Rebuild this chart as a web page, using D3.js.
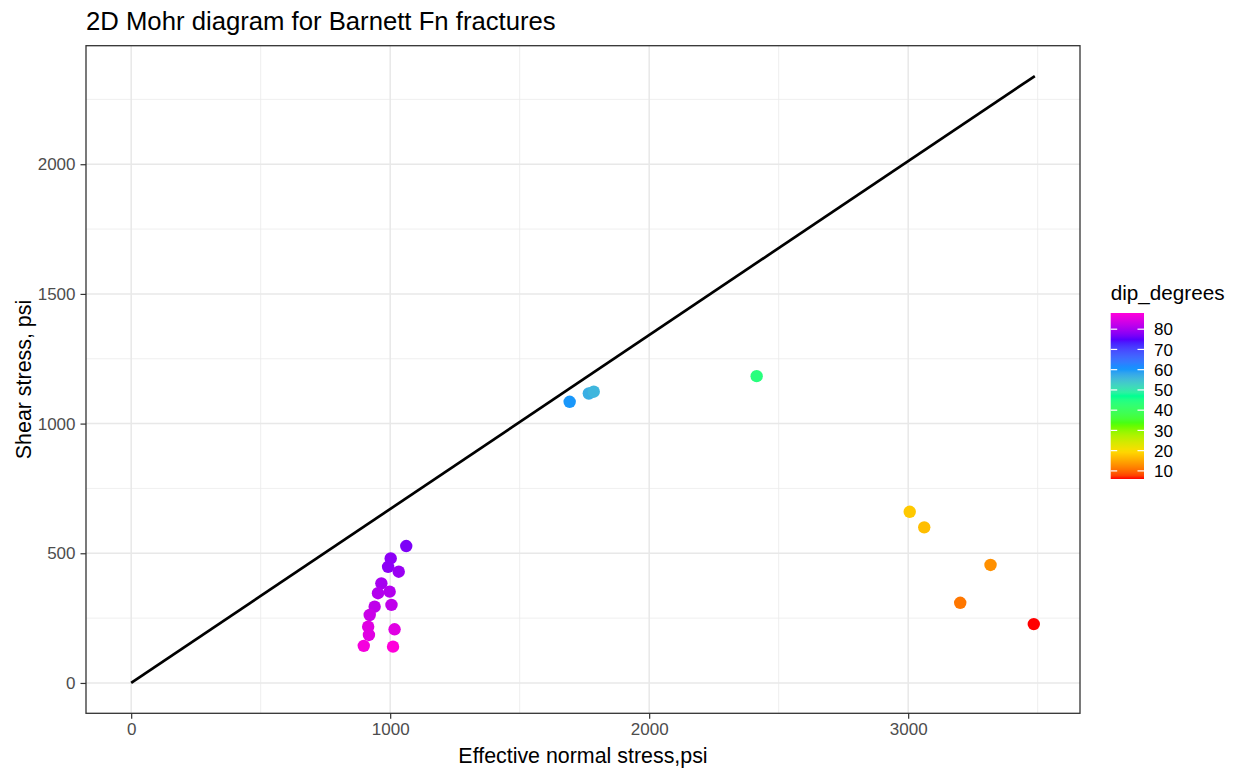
<!DOCTYPE html>
<html><head><meta charset="utf-8">
<script src="https://cdn.jsdelivr.net/npm/d3@7"></script>
<style>body{margin:0;background:#fff}svg{font-family:"Liberation Sans",Arial,sans-serif}</style>
</head><body><svg id="c" width="1245" height="773"></svg>
<script>
// Data
const normalStress = [1062,1002,992,1033,966,998,953,1005,940,921,915,918,1017,898,1011,1693,1767,1786,2415,3006,3062,3318,3201,3485];
const shearStress  = [528,480,448,429,384,352,346,301,294,262,217,185,207,143,140,1084,1116,1123,1183,660,600,455,309,227];
const dipDegrees   = [77,78,78,79,80,81,81,82,82,83,85,85,85,87,88,60,57,56,44,18,17,13,11,6];
const lineX = [0, 3489];
const lineY = [0, 2340];
const xTicks = [0,1000,2000,3000];
const yTicks = [0,500,1000,1500,2000];
const legendTicks = [10,20,30,40,50,60,70,80];
const rainbow7 = ["#FF0000","#FFDB00","#49FF00","#00FF92","#0092FF","#4900FF","#FF00DB"];

const svg = d3.select("#c");
const P = {l:86, t:45.7, r:1080, b:713.3};

const xmax = d3.max([...normalStress, ...lineX]), xmin = 0;
const ymax = d3.max([...shearStress, ...lineY]), ymin = 0;
const xr = xmax - xmin, yr = ymax - ymin;
const x = d3.scaleLinear().domain([xmin-0.05*xr, xmax+0.05*xr]).range([P.l, P.r]);
const y = d3.scaleLinear().domain([ymin-0.05*yr, ymax+0.05*yr]).range([P.b, P.t]);

const dmin = d3.min(dipDegrees), dmax = d3.max(dipDegrees);
const color = d3.scaleLinear()
  .domain(rainbow7.map((c,i)=> dmin + (dmax-dmin)*i/(rainbow7.length-1)))
  .range(rainbow7).interpolate(d3.interpolateLab);

// grid
const g = svg.append("g");
const xMinor = d3.range(500, 4000, 1000).filter(v=>v>x.domain()[0] && v<x.domain()[1]);
const yMinor = d3.range(250, 2500, 500).filter(v=>v>y.domain()[0] && v<y.domain()[1]);
g.selectAll(".xm").data(xMinor).join("line").attr("x1",d=>x(d)).attr("x2",d=>x(d)).attr("y1",P.t).attr("y2",P.b).attr("stroke","#ebebeb").attr("stroke-width",0.8);
g.selectAll(".ym").data(yMinor).join("line").attr("y1",d=>y(d)).attr("y2",d=>y(d)).attr("x1",P.l).attr("x2",P.r).attr("stroke","#ebebeb").attr("stroke-width",0.8);
g.selectAll(".xM").data(xTicks).join("line").attr("x1",d=>x(d)).attr("x2",d=>x(d)).attr("y1",P.t).attr("y2",P.b).attr("stroke","#e8e8e8").attr("stroke-width",1.5);
g.selectAll(".yM").data(yTicks).join("line").attr("y1",d=>y(d)).attr("y2",d=>y(d)).attr("x1",P.l).attr("x2",P.r).attr("stroke","#e8e8e8").attr("stroke-width",1.5);

// line
svg.append("path").datum(lineX.map((v,i)=>[v,lineY[i]]))
  .attr("d", d3.line().x(d=>x(d[0])).y(d=>y(d[1])))
  .attr("stroke","#000").attr("stroke-width",2.7).attr("fill","none");

// points
svg.append("g").selectAll("circle").data(normalStress.map((v,i)=>({x:v,y:shearStress[i],d:dipDegrees[i]})))
  .join("circle").attr("cx",d=>x(d.x)).attr("cy",d=>y(d.y)).attr("r",6.2).attr("fill",d=>color(d.d));

// border
svg.append("rect").attr("x",P.l).attr("y",P.t).attr("width",P.r-P.l).attr("height",P.b-P.t).attr("fill","none").attr("stroke","#333").attr("stroke-width",1.3);

// axes
const xa = svg.append("g").attr("transform",`translate(0,${P.b})`)
  .call(d3.axisBottom(x).tickValues(xTicks).tickSize(5.5).tickPadding(4).tickFormat(d3.format("d")));
const ya = svg.append("g").attr("transform",`translate(${P.l},0)`)
  .call(d3.axisLeft(y).tickValues(yTicks).tickSize(5.5).tickPadding(5).tickFormat(d3.format("d")));
[xa,ya].forEach(a=>{
  a.select(".domain").remove();
  a.selectAll(".tick line").attr("stroke","#333").attr("stroke-width",1.2);
  a.selectAll(".tick text").attr("fill","#4d4d4d").style("font-size","17px").style("font-family","'Liberation Sans',Arial,sans-serif");
});

// titles
svg.append("text").attr("x",P.l).attr("y",30).text("2D Mohr diagram for Barnett Fn fractures").style("font-size","25.7px").attr("fill","#000");
svg.append("text").attr("x",(P.l+P.r)/2).attr("y",763).attr("text-anchor","middle").text("Effective normal stress,psi").style("font-size","21.4px");
svg.append("text").attr("transform",`translate(31,${(P.t+P.b)/2}) rotate(-90)`).attr("text-anchor","middle").text("Shear stress, psi").style("font-size","21.4px");

// legend
const L = {x:1110.7, w:33.3, top:313, bot:479};
const ly = d3.scaleLinear().domain([dmin,dmax]).range([L.bot,L.top]);
const defs = svg.append("defs");
const grad = defs.append("linearGradient").attr("id","lg").attr("x1",0).attr("y1",1).attr("x2",0).attr("y2",0);
d3.range(0,1.0001,0.02).forEach(t=>grad.append("stop").attr("offset",t).attr("stop-color",color(dmin+t*(dmax-dmin))));
svg.append("rect").attr("x",L.x).attr("y",L.top).attr("width",L.w).attr("height",L.bot-L.top).attr("fill","url(#lg)");
const lt = svg.append("g");
lt.selectAll(".tl").data(legendTicks).join("line").attr("x1",L.x).attr("x2",L.x+6.5).attr("y1",d=>ly(d)).attr("y2",d=>ly(d)).attr("stroke","#fff").attr("stroke-width",1.2);
lt.selectAll(".tr").data(legendTicks).join("line").attr("x1",L.x+L.w-6.5).attr("x2",L.x+L.w).attr("y1",d=>ly(d)).attr("y2",d=>ly(d)).attr("stroke","#fff").attr("stroke-width",1.2);
lt.selectAll("text").data(legendTicks).join("text").attr("x",1154).attr("y",d=>ly(d)).attr("dy","0.36em").text(d=>d).style("font-size","17px").attr("fill","#000");
svg.append("text").attr("x",L.x).attr("y",300).text("dip_degrees").style("font-size","20.7px");
</script></body></html>
